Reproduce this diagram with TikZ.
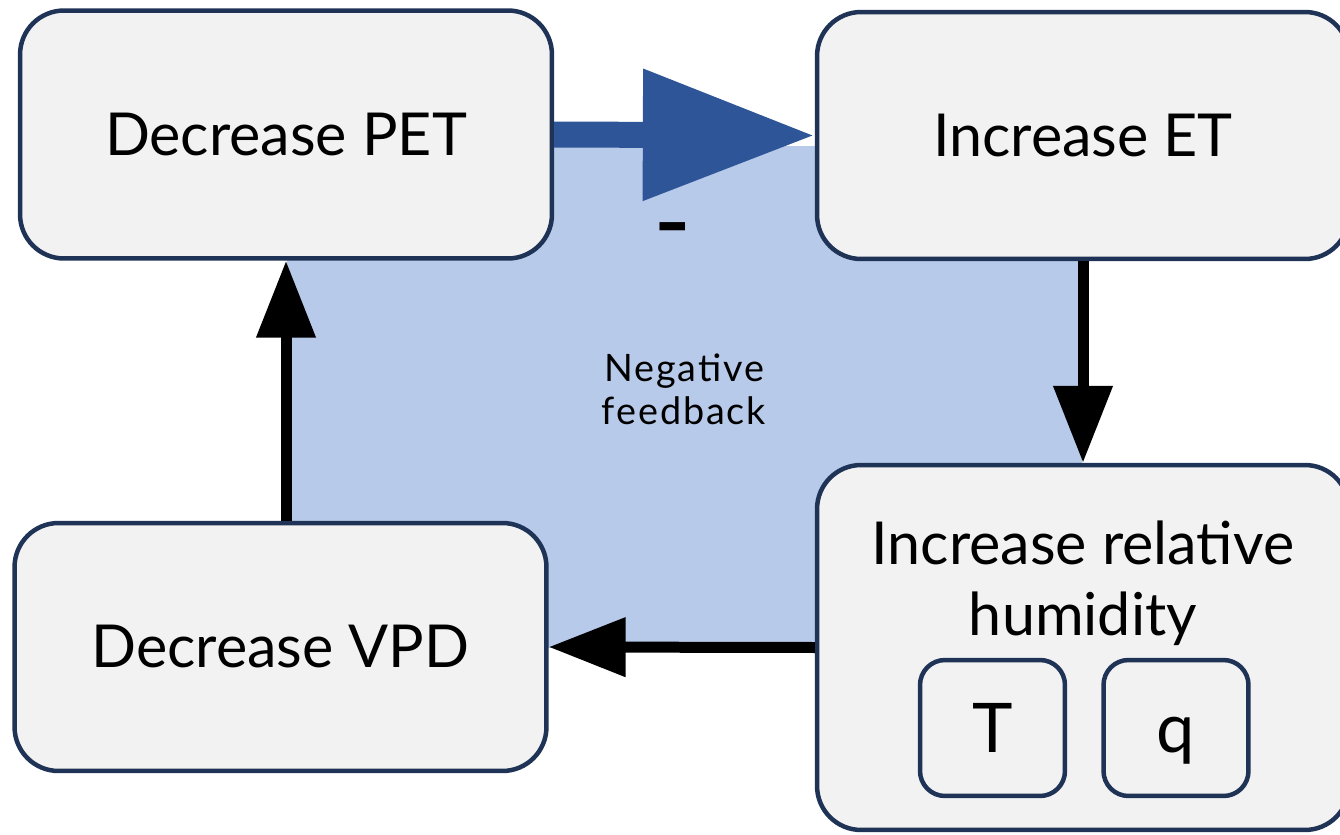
\documentclass[tikz,border=0pt]{standalone}
\usepackage{fontspec}
\setmainfont{Lato}
\newfontfamily\notefont{Lato}[LetterSpace=5]
\newfontfamily\signfont{DejaVu Sans}
\usetikzlibrary{arrows.meta}
\definecolor{boxfill}{HTML}{F2F2F2}
\definecolor{boxline}{HTML}{1F3356}
\definecolor{loopfill}{HTML}{B7CAE9}
\definecolor{arrowblue}{HTML}{2E5597}
\begin{document}
\begin{tikzpicture}[x=0.02cm,y=-0.02cm,
  stage/.style={draw=boxline, fill=boxfill, line width=0.09cm,
    rounded corners=0.88cm, minimum width=10.64cm, minimum height=4.96cm,
    inner sep=0pt, align=center, font=\fontsize{33.7}{40}\selectfont},
  cell/.style={draw=boxline, fill=boxfill, line width=0.09cm,
    rounded corners=0.5cm, minimum width=2.9cm, minimum height=2.72cm,
    inner sep=0pt, text height=28pt, text depth=0pt,
    font=\fontsize{39}{44}\selectfont},
  flow/.style={line width=0.22cm, -{Triangle[length=1.54cm, width=1.14cm]}},
  bigflow/.style={arrowblue, line width=0.52cm,
    -{Triangle[length=3.44cm, width=2.5cm]}},
  note/.style={align=center, font=\notefont\fontsize{21.5}{24}\selectfont}]
\clip (0,0) rectangle (1340,835);
% shaded interior of the feedback loop
\fill[loopfill] (287,146) rectangle (1082,648);
% stages of the loop
\node[stage] (pet) at (286,134.5) {Decrease PET};
\node[stage, minimum height=4.94cm] (et) at (1083,135.5) {Increase ET};
\node[stage] (vpd) at (280.5,647) {Decrease VPD};
\node[stage, minimum height=7.3cm] (rh) at (1083,647.5) {};
\node[anchor=base, align=center, font=\fontsize{33.7}{40}\selectfont]
  (rhtext) at (1083,635) {Increase relative\\humidity};
\node[cell] (t) at (992.5,728) {T};
\node[cell] (q) at (1176,728) {q};
% connectors
\draw[bigflow] (pet.east) -- (et.west);
\draw[flow] (et.south) -- (rh.north);
\draw[flow] (rh.west) -- (vpd.east);
\draw[flow] (vpd.north -| pet.south) -- (pet.south);
% labels
\node[anchor=base, inner sep=0pt, font=\signfont\bfseries\fontsize{37}{40}\selectfont]
  (sign) at (673,244) {–};
\node[note, anchor=base] (loop) at (684,424) {Negative\\feedback};
\end{tikzpicture}
\end{document}
